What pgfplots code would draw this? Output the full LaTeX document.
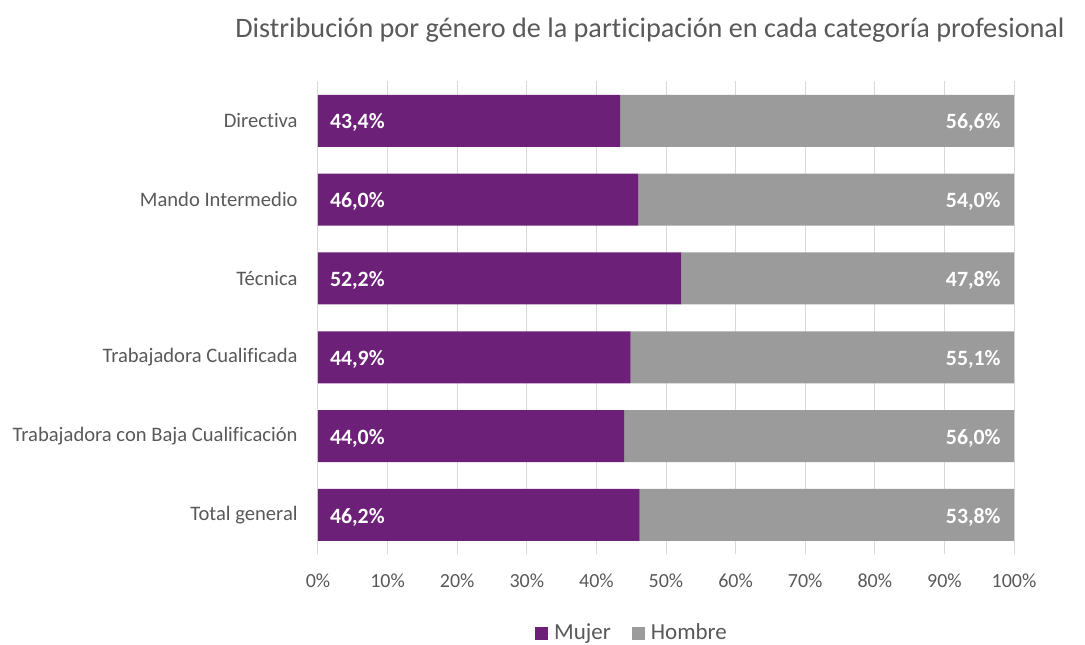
\documentclass[border=0pt]{standalone}
\usepackage{pgfplots}
\pgfplotsset{compat=1.18}
\usepackage{pgfplotstable}
\usepackage{fontspec}
\setmainfont{Carlito}[Ligatures=NoCommon]
\definecolor{mujer}{RGB}{108,32,119}
\definecolor{hombre}{RGB}{155,155,155}
\definecolor{txt}{RGB}{89,89,89}
\definecolor{gridc}{RGB}{217,217,217}
\pgfplotstableread{
y mujer hombre
5 43.4 56.6
4 46.0 54.0
3 52.2 47.8
2 44.9 55.1
1 44.0 56.0
0 46.2 53.8
}\data
\pgfplotsset{
  barlabel/.style={draw=none, mark=none, point meta=explicit,
    nodes near coords={\pgfmathprintnumber[fixed, fixed zerofill, precision=1, use comma]{\pgfplotspointmeta}\%},
    every node near coord/.append style={text=white, font=\bfseries\fontsize{10.9}{13}\selectfont, inner sep=0pt, yshift=-1pt, /pgf/number format/assume math mode=true}},
}
\begin{document}
\begin{tikzpicture}
\begin{axis}[
  at={(0,0)}, anchor=south west,
  scale only axis, width=348pt, height=236.5pt,
  xbar stacked, bar width=26pt,
  xmin=0, xmax=100, ymin=-0.5, ymax=5.5,
  xtick={0,10,...,100},
  xticklabel={\pgfmathprintnumber{\tick}\%},
  /pgf/number format/assume math mode=true,
  ytick={0,1,2,3,4,5},
  yticklabels={Total general, Trabajadora con Baja Cualificación, Trabajadora Cualificada, Técnica, Mando Intermedio, Directiva},
  major tick length=0pt,
  axis line style={draw=none},
  xmajorgrids, grid style={gridc, line width=0.5pt},
  tick label style={text=txt, inner sep=0pt},
  xticklabel style={font=\fontsize{10}{12}\selectfont, yshift=-9.5pt, anchor=north},
  yticklabel style={font=\fontsize{10.3}{12}\selectfont, xshift=-10pt, anchor=east},
  title={Distribución por género de la participación en cada categoría profesional},
  title style={font=\fontsize{14.1}{16}\selectfont, text=txt, at={(rel axis cs:0.477,1)}, anchor=base, yshift=16pt},
  legend style={draw=none, at={(rel axis cs:0.4526,0)}, anchor=center, yshift=-39.3pt, font=\fontsize{11.5}{13}\selectfont, text=txt, legend columns=2, /tikz/every even column/.append style={column sep=8.5pt}},
  legend image code/.code={\fill[#1] (0pt,-3.25pt) rectangle (6.5pt,3.25pt); \path (0pt,0pt) -- (7.5pt,0pt);},
]
\addplot[fill=mujer, draw=none] table[x=mujer, y=y] {\data};
\addplot[fill=hombre, draw=none] table[x=hombre, y=y] {\data};
\legend{Mujer, Hombre}
\end{axis}
\begin{axis}[
  at={(0,0)}, anchor=south west,
  scale only axis, width=348pt, height=236.5pt,
  xmin=0, xmax=100, ymin=-0.5, ymax=5.5,
  hide axis, clip=false,
]
\addplot[barlabel, every node near coord/.append style={anchor=west, xshift=5.8pt}]
  table[x expr=0, y=y, meta=mujer] {\data};
\addplot[barlabel, every node near coord/.append style={anchor=east, xshift=-6.5pt}]
  table[x expr=\thisrow{mujer}+\thisrow{hombre}, y=y, meta=hombre] {\data};
\end{axis}
\pgfresetboundingbox
\useasboundingbox (-159pt,-44.8pt) rectangle (383.5pt,277.2pt);
\end{tikzpicture}
\end{document}
